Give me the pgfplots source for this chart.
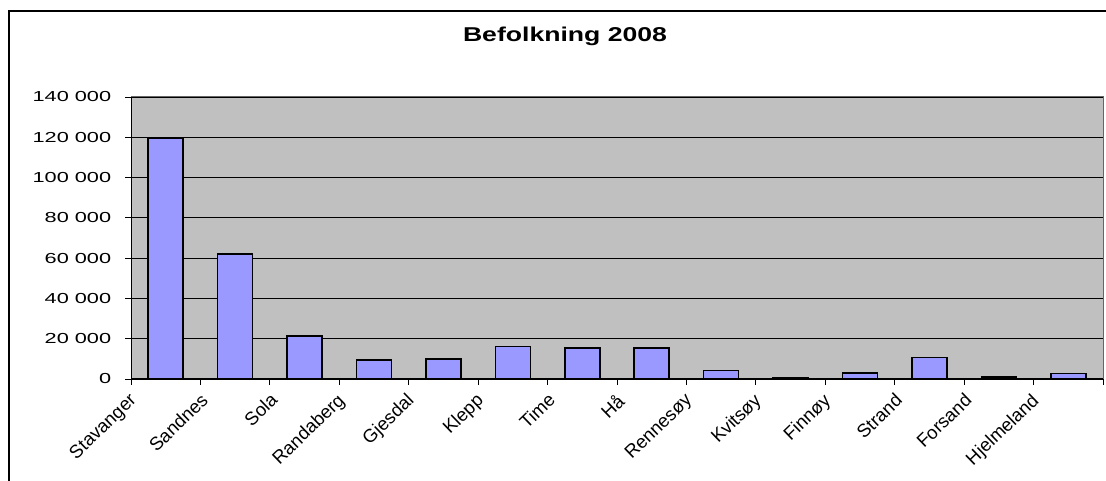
\documentclass[border=0pt]{standalone}
\usepackage{fontspec}
\setmainfont{Liberation Sans}
\usepackage{graphicx}
\usepackage{pgfplots}
\pgfplotsset{compat=1.18}
\definecolor{plotgray}{HTML}{C0C0C0}
\definecolor{barblue}{HTML}{9999FF}
\newcommand{\slant}[1]{\rotatebox{44}{#1}}
\begin{document}
\begin{tikzpicture}
\path[use as bounding box] (0pt,0pt) rectangle (1106pt,481pt);
% outer chart frame
\draw[line width=1.3pt] (9pt,0pt) -- (9pt,470pt) -- (1106pt,470pt);
\begin{axis}[
  at={(131pt,102pt)}, anchor=south west,
  scale only axis, width=972pt, height=282pt,
  xmin=0.5, xmax=14.5, ymin=0, ymax=140000,
  axis background/.style={fill=plotgray},
  axis line style={draw=gray!80!black, line width=1pt},
  ytick={0,20000,40000,60000,80000,100000,120000,140000},
  yticklabels={0,20 000,40 000,60 000,80 000,100 000,120 000,140 000},
  scaled y ticks=false,
  xtick={0.5,1.5,2.5,3.5,4.5,5.5,6.5,7.5,8.5,9.5,10.5,11.5,12.5,13.5,14.5},
  xticklabels={\slant{Stavanger},\slant{Sandnes},\slant{Sola},\slant{Randaberg},
    \slant{Gjesdal},\slant{Klepp},\slant{Time},\slant{Hå},\slant{Rennesøy},
    \slant{Kvitsøy},\slant{Finnøy},\slant{Strand},\slant{Forsand},\slant{Hjelmeland},{}},
  ymajorgrids, major grid style={black, line width=0.8pt},
  tick align=outside, major tick length=6pt,
  tick style={black, line width=0.8pt},
  xtick pos=lower, ytick pos=left,
  yticklabel style={font=\fontsize{14.5}{17}\selectfont, xscale=1.5, anchor=east, inner sep=0pt, xshift=-9pt},
  xticklabel style={font=\fontsize{18.5}{21}\selectfont, anchor=north east, inner sep=0pt, xshift=9pt, yshift=-7pt},
  title={Befolkning 2008},
  title style={font=\bfseries\fontsize{20}{24}\selectfont, xscale=1.33, at={(0.4465,1.177)}, anchor=base},
  ybar, bar width=35pt,
  after end axis/.code={
    \draw[black, line width=1pt] (rel axis cs:0,1) -- (rel axis cs:0,0) -- (rel axis cs:1,0);
  },
]
\addplot[fill=barblue, draw=black, line width=1.7pt] coordinates {
  (1,119586) (2,62200) (3,21400) (4,9500) (5,10100) (6,16100) (7,15300)
  (8,15300) (9,4200) (10,520) (11,2900) (12,10700) (13,1150) (14,2800)
};
\end{axis}
\end{tikzpicture}
\end{document}
